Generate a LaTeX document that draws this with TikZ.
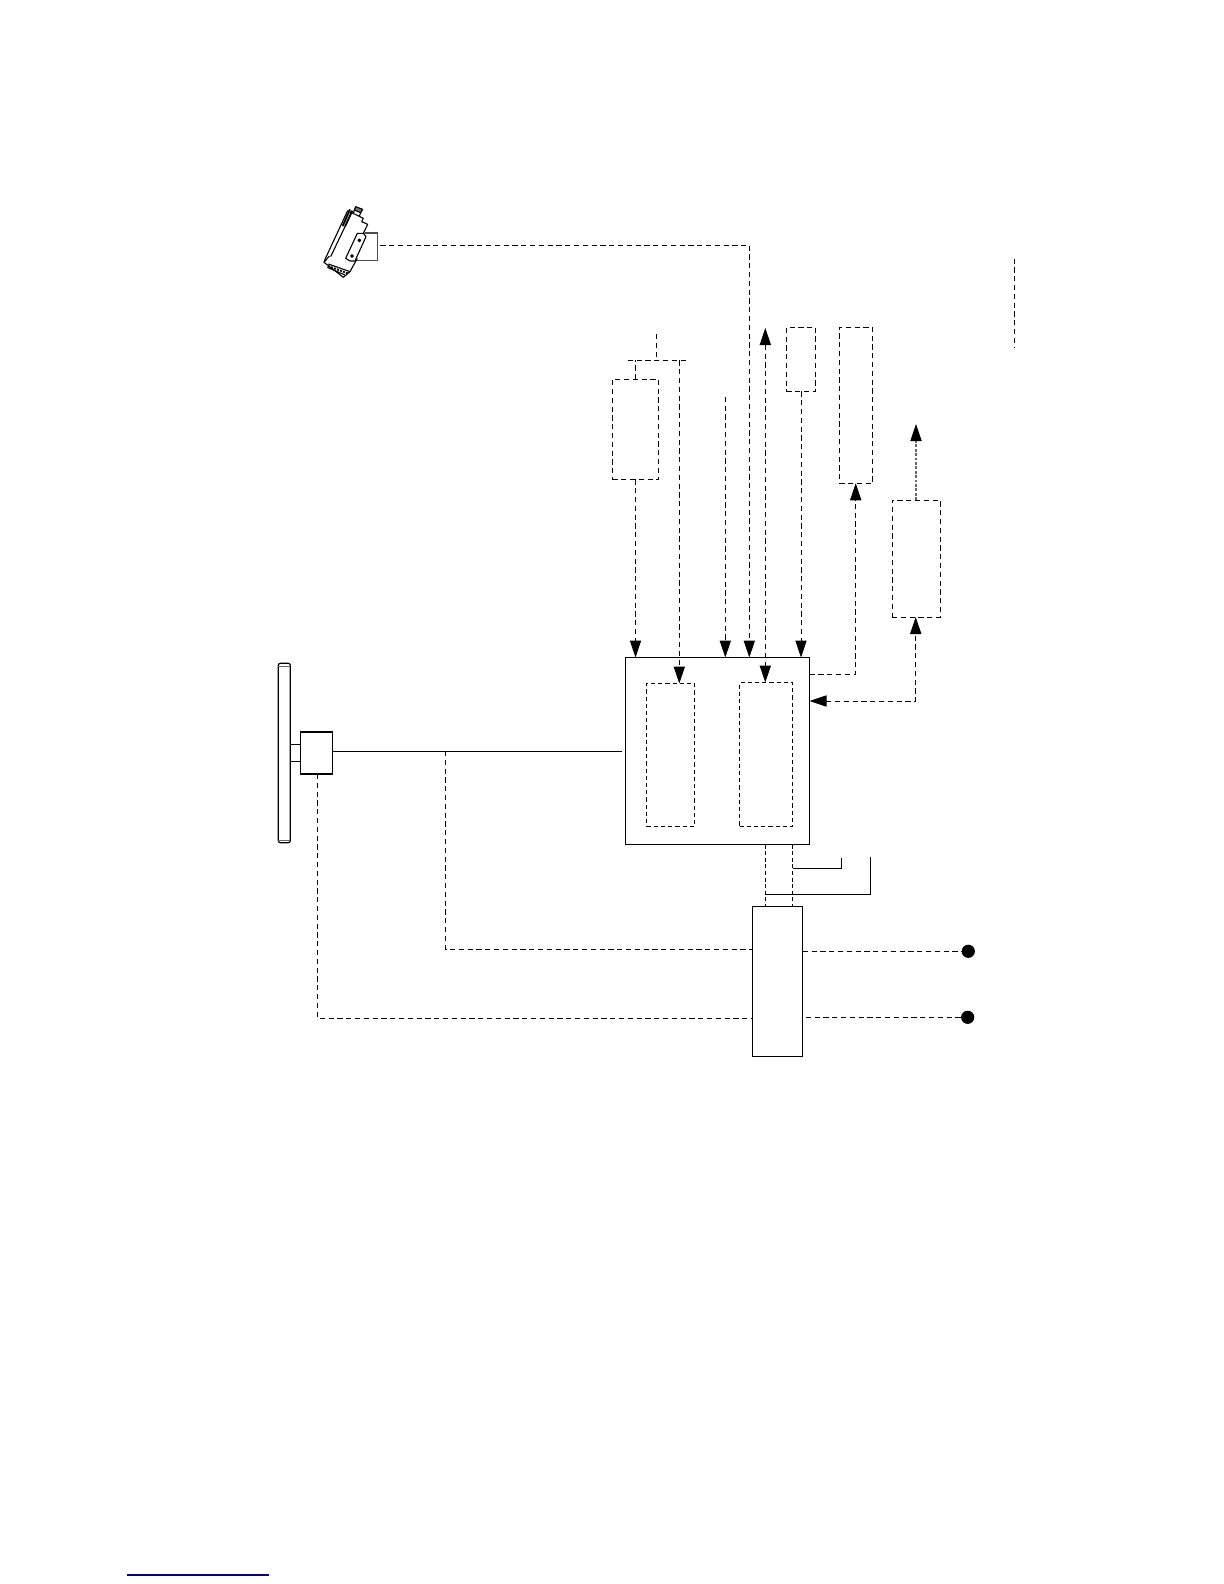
\documentclass[tikz,border=0pt]{standalone}
\usetikzlibrary{arrows.meta,calc}
\newdimen\pxu
\pxu=0.5pt
\definecolor{linknavy}{RGB}{0,0,128}

\begin{document}
\begin{tikzpicture}[x=\pxu,y=-\pxu]
                \tikzset{SolidBox/.style={draw,line width=0.6pt,inner sep=0,outer sep=0}}
                \tikzset{DashBox/.style={draw,line width=0.5pt,dash pattern=on 2.6pt off 1.8pt,inner sep=0,outer sep=0}}
                \tikzset{FineBox/.style={draw,line width=0.5pt,dash pattern=on 2.1pt off 1.5pt,inner sep=0,outer sep=0}}
                \tikzset{DashLine/.style={line width=0.5pt,dash pattern=on 2.6pt off 1.8pt}}
                \tikzset{FineLine/.style={line width=0.5pt,dash pattern=on 2pt off 1.3pt}}
                \tikzset{SolidLine/.style={line width=0.5pt}}
                \tikzset{SensorLine/.style={line width=0.55pt,line join=round}}
                \tikzset{TipEnd/.style={-{Triangle[length=8.5pt,width=5.6pt,black]}}}
                \tikzset{TipBoth/.style={{Triangle[length=8.5pt,width=5.6pt,black]}-{Triangle[length=8.5pt,width=5.6pt,black]}}}
                \tikzset{Terminal/.style={circle,fill=black,minimum size=6.6pt,inner sep=0,outer sep=0}}
                \useasboundingbox (0,0) rectangle (1224,1584);
                % boxes
                \node[SolidBox,minimum width=184\pxu,minimum height=187\pxu] (ecu) at (717.5,751) {};
                \node[SolidBox,minimum width=50.5\pxu,minimum height=150\pxu] (power) at (777.5,981.3) {};
                \node[DashBox,minimum width=46.4\pxu,minimum height=100\pxu] (relay) at (635.5,429.3) {};
                \node[DashBox,minimum width=29.4\pxu,minimum height=64\pxu] (fuse) at (801,359.3) {};
                \node[DashBox,minimum width=33.4\pxu,minimum height=156\pxu] (lamp) at (856,405.3) {};
                \node[DashBox,minimum width=48\pxu,minimum height=117\pxu] (module) at (916,558.5) {};
                \node[FineBox,minimum width=48\pxu,minimum height=143\pxu] (innerA) at (670.5,755) {};
                \node[FineBox,minimum width=53\pxu,minimum height=144\pxu] (innerB) at (766,754.5) {};
                % steering wheel and its hub
                \node[SolidBox,minimum width=12\pxu,minimum height=179.4\pxu,rounded corners=1pt] (wheel) at (284.3,753) {};
                \node[SolidBox,minimum width=32\pxu,minimum height=42\pxu] (hub) at (316.7,753) {};
                \draw[SolidLine,black!60] (278.3,666.5) -- (290.3,666.5);
                \draw[SolidLine,black!60] (278.3,840) -- (290.3,840);
                \draw[SolidLine] (wheel.east |- 0,744.3) -- (hub.west |- 0,744.3);
                \draw[SolidLine] (wheel.east |- 0,761.7) -- (hub.west |- 0,761.7);
                % sensor
                \node[SolidBox,black!70,minimum width=23\pxu,minimum height=27.4\pxu] (tab) at (365.8,246.7) {};
                \begin{scope}[shift={(300,190)},x=0.3333\pxu,y=-0.3333\pxu]
                \fill[white] (143,62) -- (190,85) -- (185,95) -- (203,103) -- (150,245) -- (75,208) -- cycle;
                \draw[SensorLine] (143,62) -- (75,208) -- (72,217) -- (130,262) -- (150,245) -- (172,205);
                \draw[SensorLine] (143,62) -- (190,85) -- (185,95) -- (203,103) -- (190,130);
                \draw[SensorLine,fill=black!55] (167,50) -- (188,58) -- (182,68) -- (163,60) -- cycle;
                \draw[SensorLine] (163,60) -- (160,72) (182,68) -- (178,79);
                \draw[line width=0.9pt] (150,58) -- (128,108) (157,62) -- (135,110);
                \draw[SensorLine] (135,110) -- (92,200);
                \draw[SensorLine] (85,222) -- (150,245) (82,232) -- (135,255) (88,198) -- (72,217);
                \draw[line width=0.9pt,dash pattern=on 1pt off 0.6pt] (84,228) -- (143,250);
                \fill[white] (172,130) -- (137,205) -- (150,213) -- (165,213) -- (198,140) -- (190,130) -- cycle;
                \draw[SensorLine] (172,130) -- (137,205) -- (150,213) -- (165,213) -- (198,140) -- (190,130) -- cycle;
                \draw[SensorLine,fill=black] (178,151) circle (4) (156,198) circle (4);
                \end{scope}
                % free ends
                \coordinate (busL) at (627.7,360.3);
                \coordinate (busR) at (689,360.3);
                \coordinate (busTop) at (656.3,334);
                \coordinate (busDrop) at (679.3,360.3);
                \coordinate (signal) at (725.3,396.7);
                \coordinate (sensorTurn) at (749.3,245);
                \coordinate (twoWayTop) at (765.3,328);
                \coordinate (lampTurn) at (855.7,674);
                \coordinate (moduleTurn) at (915.7,701);
                \coordinate (moduleOut) at (916,424);
                \coordinate (wheelTap) at (445.5,751);
                \coordinate (farTop) at (1014,258.6);
                \coordinate (farBottom) at (1014,347);
                \coordinate (upperTurn) at (445.5,949);
                \coordinate (lowerTurn) at (317.3,1018);
                \coordinate (shortEnd) at (841.6,858);
                \coordinate (longEnd) at (870.3,857);
                \coordinate (wireA) at (765.7,894.4);
                \coordinate (wireB) at (792.5,868.2);
                \coordinate (linkL) at (127,1575);
                \coordinate (linkR) at (269,1575);
                \node[Terminal] (termA) at (968.3,951.3) {};
                \node[Terminal] (termB) at (967.7,1017.3) {};
                % top connections
                \draw[DashLine] (busL) -- (busR);
                \draw[DashLine] (busTop) -- (busTop |- busL);
                \draw[DashLine] (relay.north) -- (relay.north |- busL);
                \draw[DashLine,TipEnd] (relay.south) -- (relay.south |- ecu.north);
                \draw[DashLine,TipEnd] (busDrop) -- (busDrop |- innerA.north);
                \draw[DashLine,TipEnd] (signal) -- (signal |- ecu.north);
                \draw[DashLine,TipEnd] ($(tab.east)+(3,-1.7)$) -- (sensorTurn) -- (sensorTurn |- ecu.north);
                \draw[DashLine,TipBoth] (twoWayTop) -- (twoWayTop |- innerB.north);
                \draw[DashLine,TipEnd] (fuse.south) -- (fuse.south |- ecu.north);
                \draw[DashLine,TipEnd] (ecu.east |- lampTurn) -- (lampTurn) -- (lampTurn |- lamp.south);
                \draw[DashLine,TipBoth] (ecu.east |- moduleTurn) -- (moduleTurn) -- (moduleTurn |- module.south);
                \draw[line width=0.6pt,dash pattern=on 1.4pt off 0.8pt,TipEnd,black!60] (module.north) -- (moduleOut);
                \draw[DashLine] (farTop) -- (farBottom);
                % hub connections
                \draw[SolidLine] (hub.east |- wheelTap) -- (621.7,751);
                \draw[DashLine] (wheelTap) -- (upperTurn) -- (upperTurn -| power.west);
                \draw[DashLine] (hub.south -| lowerTurn) -- (lowerTurn) -- (lowerTurn -| power.west);
                % ecu to power box
                \draw[FineLine] (wireA |- ecu.south) -- (wireA |- power.north);
                \draw[FineLine] (wireB |- ecu.south) -- (wireB |- power.north);
                \draw[SolidLine] (wireB) -- (wireB -| shortEnd) -- (shortEnd);
                \draw[SolidLine] (wireA) -- (wireA -| longEnd) -- (longEnd);
                \draw[DashLine] (power.east |- termA) -- (termA);
                \draw[DashLine] ($(power.east |- termB)+(3,0)$) -- (termB);
                \draw[linknavy,line width=0.6pt] (linkL) -- (linkR);
\end{tikzpicture}
\end{document}
